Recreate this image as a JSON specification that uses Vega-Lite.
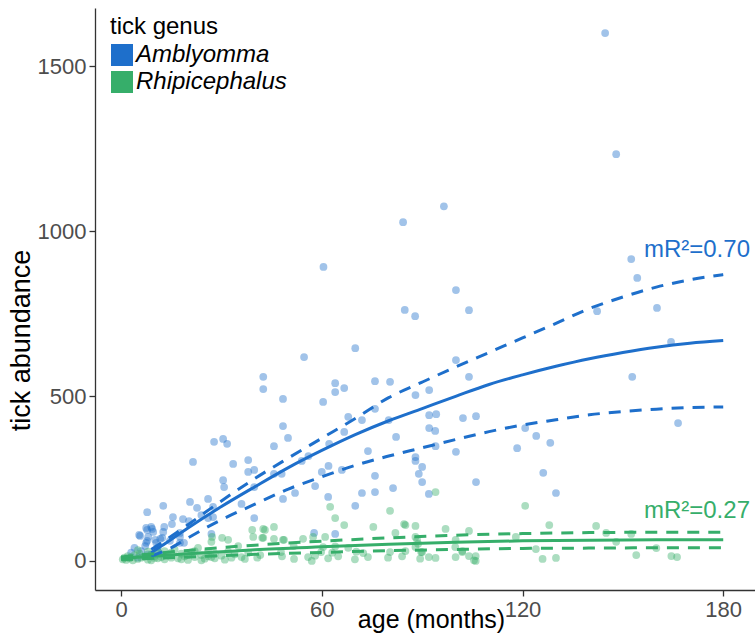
{
  "$schema": "https://vega.github.io/schema/vega-lite/v6.json",
  "width": 660,
  "height": 582,
  "autosize": {"type": "none"},
  "padding": {"left": 95, "top": 8, "right": 0, "bottom": 45},
  "background": "white",
  "config": {
    "view": {"stroke": null},
    "font": "Liberation Sans",
    "axis": {"grid": false, "domainColor": "#333333", "domainWidth": 1.3, "tickColor": "#333333", "tickSize": 6, "tickWidth": 1.3, "labelColor": "#4D4D4D", "labelFontSize": 22, "titleFont": "Liberation Sans", "titleFontSize": 27, "titleFontWeight": "normal", "titleColor": "#000000", "labelPadding": 3, "labelFont": "Liberation Sans"},
    "legend": {"titleFontSize": 24, "titleFontWeight": "normal", "titleColor": "#000000", "labelFontSize": 24, "labelFontStyle": "italic", "labelColor": "#000000", "symbolType": "square", "symbolSize": 484, "symbolOpacity": 1, "symbolStrokeWidth": 0, "rowPadding": 3, "titlePadding": 4, "labelOffset": 2}
  },
  "datasets": {
    "pts": [
      {"genus":"Amblyomma","age":144.7,"ticks":1600},{"genus":"Amblyomma","age":148,"ticks":1233},{"genus":"Amblyomma","age":96.5,"ticks":1075},{"genus":"Amblyomma","age":84.3,"ticks":1027},{"genus":"Amblyomma","age":60.5,"ticks":891},{"genus":"Amblyomma","age":100.1,"ticks":821},{"genus":"Amblyomma","age":104,"ticks":760},{"genus":"Amblyomma","age":84.8,"ticks":761},{"genus":"Amblyomma","age":152.5,"ticks":915},{"genus":"Amblyomma","age":154.3,"ticks":858},{"genus":"Amblyomma","age":160.2,"ticks":767},{"genus":"Amblyomma","age":164.4,"ticks":664},{"genus":"Amblyomma","age":152.8,"ticks":558},{"genus":"Amblyomma","age":166.5,"ticks":418},{"genus":"Amblyomma","age":142.3,"ticks":757},{"genus":"Amblyomma","age":87.9,"ticks":742},{"genus":"Amblyomma","age":100.1,"ticks":609},{"genus":"Amblyomma","age":104,"ticks":558},{"genus":"Amblyomma","age":92.1,"ticks":518},{"genus":"Amblyomma","age":92.1,"ticks":442},{"genus":"Amblyomma","age":94.2,"ticks":445},{"genus":"Amblyomma","age":102.2,"ticks":433},{"genus":"Amblyomma","age":106.1,"ticks":439},{"genus":"Amblyomma","age":92.1,"ticks":403},{"genus":"Amblyomma","age":93.9,"ticks":394},{"genus":"Amblyomma","age":120.8,"ticks":403},{"genus":"Amblyomma","age":124.1,"ticks":379},{"genus":"Amblyomma","age":128.3,"ticks":358},{"genus":"Amblyomma","age":118.4,"ticks":342},{"genus":"Amblyomma","age":88,"ticks":503},{"genus":"Amblyomma","age":94,"ticks":348},{"genus":"Amblyomma","age":100.1,"ticks":331},{"genus":"Amblyomma","age":88,"ticks":315},{"genus":"Amblyomma","age":88,"ticks":303},{"genus":"Amblyomma","age":90,"ticks":285},{"genus":"Amblyomma","age":89,"ticks":264},{"genus":"Amblyomma","age":90,"ticks":239},{"genus":"Amblyomma","age":92,"ticks":203},{"genus":"Amblyomma","age":106.1,"ticks":239},{"genus":"Amblyomma","age":126.2,"ticks":267},{"genus":"Amblyomma","age":130,"ticks":206},{"genus":"Amblyomma","age":70,"ticks":645},{"genus":"Amblyomma","age":54.7,"ticks":618},{"genus":"Amblyomma","age":42.5,"ticks":558},{"genus":"Amblyomma","age":42.5,"ticks":521},{"genus":"Amblyomma","age":48.4,"ticks":491},{"genus":"Amblyomma","age":60.4,"ticks":482},{"genus":"Amblyomma","age":64,"ticks":539},{"genus":"Amblyomma","age":64,"ticks":512},{"genus":"Amblyomma","age":66.7,"ticks":524},{"genus":"Amblyomma","age":75.9,"ticks":545},{"genus":"Amblyomma","age":80.4,"ticks":543},{"genus":"Amblyomma","age":67.9,"ticks":437},{"genus":"Amblyomma","age":72,"ticks":427},{"genus":"Amblyomma","age":75.9,"ticks":461},{"genus":"Amblyomma","age":80,"ticks":427},{"genus":"Amblyomma","age":48.4,"ticks":409},{"genus":"Amblyomma","age":49.9,"ticks":373},{"genus":"Amblyomma","age":45.7,"ticks":348},{"genus":"Amblyomma","age":66.7,"ticks":391},{"genus":"Amblyomma","age":62.2,"ticks":355},{"genus":"Amblyomma","age":73.8,"ticks":333},{"genus":"Amblyomma","age":75.9,"ticks":258},{"genus":"Amblyomma","age":30.5,"ticks":370},{"genus":"Amblyomma","age":27.8,"ticks":361},{"genus":"Amblyomma","age":31.7,"ticks":355},{"genus":"Amblyomma","age":21.5,"ticks":300},{"genus":"Amblyomma","age":33.5,"ticks":294},{"genus":"Amblyomma","age":38,"ticks":306},{"genus":"Amblyomma","age":38,"ticks":270},{"genus":"Amblyomma","age":39.8,"ticks":276},{"genus":"Amblyomma","age":45.7,"ticks":264},{"genus":"Amblyomma","age":48,"ticks":264},{"genus":"Amblyomma","age":54,"ticks":303},{"genus":"Amblyomma","age":56,"ticks":318},{"genus":"Amblyomma","age":60,"ticks":270},{"genus":"Amblyomma","age":62,"ticks":288},{"genus":"Amblyomma","age":58,"ticks":227},{"genus":"Amblyomma","age":48.4,"ticks":188},{"genus":"Amblyomma","age":52,"ticks":206},{"genus":"Amblyomma","age":39.8,"ticks":224},{"genus":"Amblyomma","age":36,"ticks":173},{"genus":"Amblyomma","age":39.8,"ticks":130},{"genus":"Amblyomma","age":30.5,"ticks":245},{"genus":"Amblyomma","age":30.8,"ticks":224},{"genus":"Amblyomma","age":26,"ticks":188},{"genus":"Amblyomma","age":22.7,"ticks":161},{"genus":"Amblyomma","age":20.6,"ticks":179},{"genus":"Amblyomma","age":24,"ticks":139},{"genus":"Amblyomma","age":18.5,"ticks":127},{"genus":"Amblyomma","age":27,"ticks":82},{"genus":"Amblyomma","age":27.5,"ticks":133},{"genus":"Amblyomma","age":12.6,"ticks":167},{"genus":"Amblyomma","age":15.5,"ticks":133},{"genus":"Amblyomma","age":15.2,"ticks":112},{"genus":"Amblyomma","age":7.8,"ticks":148},{"genus":"Amblyomma","age":9,"ticks":103},{"genus":"Amblyomma","age":7.5,"ticks":100},{"genus":"Amblyomma","age":5.7,"ticks":76},{"genus":"Amblyomma","age":9.6,"ticks":88},{"genus":"Amblyomma","age":11.7,"ticks":67},{"genus":"Amblyomma","age":12.6,"ticks":88},{"genus":"Amblyomma","age":7.8,"ticks":61},{"genus":"Amblyomma","age":10.5,"ticks":55},{"genus":"Amblyomma","age":7.5,"ticks":55},{"genus":"Amblyomma","age":14.6,"ticks":61},{"genus":"Amblyomma","age":17.6,"ticks":55},{"genus":"Amblyomma","age":10.8,"ticks":33},{"genus":"Amblyomma","age":17.6,"ticks":85},{"genus":"Amblyomma","age":57.7,"ticks":85},{"genus":"Amblyomma","age":64,"ticks":82},{"genus":"Amblyomma","age":61.9,"ticks":194},{"genus":"Amblyomma","age":72,"ticks":206},{"genus":"Amblyomma","age":75.9,"ticks":209},{"genus":"Amblyomma","age":70,"ticks":167},{"genus":"Amblyomma","age":81.3,"ticks":221},{"genus":"Amblyomma","age":27.5,"ticks":164},{"genus":"Amblyomma","age":82.2,"ticks":376},{"genus":"Amblyomma","age":66,"ticks":276},{"genus":"Amblyomma","age":12.9,"ticks":103},{"genus":"Amblyomma","age":20.3,"ticks":121},{"genus":"Amblyomma","age":7.8,"ticks":94},{"genus":"Amblyomma","age":9.3,"ticks":97},{"genus":"Amblyomma","age":5.4,"ticks":79},{"genus":"Amblyomma","age":8.1,"ticks":73},{"genus":"Amblyomma","age":10.2,"ticks":64},{"genus":"Amblyomma","age":12.3,"ticks":70},{"genus":"Amblyomma","age":7.2,"ticks":45},{"genus":"Amblyomma","age":11,"ticks":42},{"genus":"Amblyomma","age":17.6,"ticks":73},{"genus":"Amblyomma","age":18.8,"ticks":55},{"genus":"Amblyomma","age":26,"ticks":130},{"genus":"Amblyomma","age":3,"ticks":25},{"genus":"Amblyomma","age":4,"ticks":40},{"genus":"Amblyomma","age":6,"ticks":30},{"genus":"Amblyomma","age":8,"ticks":20},{"genus":"Amblyomma","age":5,"ticks":10},
      {"genus":"Rhipicephalus","age":94,"ticks":209},{"genus":"Rhipicephalus","age":120.8,"ticks":167},{"genus":"Rhipicephalus","age":85,"ticks":109},{"genus":"Rhipicephalus","age":88,"ticks":106},{"genus":"Rhipicephalus","age":97,"ticks":97},{"genus":"Rhipicephalus","age":104,"ticks":91},{"genus":"Rhipicephalus","age":128,"ticks":109},{"genus":"Rhipicephalus","age":142,"ticks":106},{"genus":"Rhipicephalus","age":118,"ticks":73},{"genus":"Rhipicephalus","age":145,"ticks":85},{"genus":"Rhipicephalus","age":152.5,"ticks":82},{"genus":"Rhipicephalus","age":148,"ticks":58},{"genus":"Rhipicephalus","age":160,"ticks":39},{"genus":"Rhipicephalus","age":154,"ticks":18},{"genus":"Rhipicephalus","age":164.5,"ticks":15},{"genus":"Rhipicephalus","age":166.2,"ticks":12},{"genus":"Rhipicephalus","age":124,"ticks":36},{"genus":"Rhipicephalus","age":126,"ticks":6},{"genus":"Rhipicephalus","age":130,"ticks":9},{"genus":"Rhipicephalus","age":100,"ticks":12},{"genus":"Rhipicephalus","age":104,"ticks":15},{"genus":"Rhipicephalus","age":106,"ticks":0},{"genus":"Rhipicephalus","age":102,"ticks":30},{"genus":"Rhipicephalus","age":92,"ticks":12},{"genus":"Rhipicephalus","age":94,"ticks":9},{"genus":"Rhipicephalus","age":85,"ticks":30},{"genus":"Rhipicephalus","age":90,"ticks":27},{"genus":"Rhipicephalus","age":88,"ticks":73},{"genus":"Rhipicephalus","age":100,"ticks":64},{"genus":"Rhipicephalus","age":62.5,"ticks":164},{"genus":"Rhipicephalus","age":64,"ticks":130},{"genus":"Rhipicephalus","age":66.7,"ticks":109},{"genus":"Rhipicephalus","age":80.4,"ticks":152},{"genus":"Rhipicephalus","age":43,"ticks":94},{"genus":"Rhipicephalus","age":45.7,"ticks":103},{"genus":"Rhipicephalus","age":42.5,"ticks":70},{"genus":"Rhipicephalus","age":45.7,"ticks":67},{"genus":"Rhipicephalus","age":48.4,"ticks":64},{"genus":"Rhipicephalus","age":54.4,"ticks":67},{"genus":"Rhipicephalus","age":51.6,"ticks":45},{"genus":"Rhipicephalus","age":40.7,"ticks":10},{"genus":"Rhipicephalus","age":48.1,"ticks":14},{"genus":"Rhipicephalus","age":51.7,"ticks":6},{"genus":"Rhipicephalus","age":55.9,"ticks":12},{"genus":"Rhipicephalus","age":58,"ticks":16},{"genus":"Rhipicephalus","age":61.9,"ticks":8},{"genus":"Rhipicephalus","age":64.9,"ticks":14},{"genus":"Rhipicephalus","age":69.9,"ticks":5},{"genus":"Rhipicephalus","age":73.8,"ticks":12},{"genus":"Rhipicephalus","age":79.8,"ticks":10},{"genus":"Rhipicephalus","age":84,"ticks":14},{"genus":"Rhipicephalus","age":89.4,"ticks":7},{"genus":"Rhipicephalus","age":47.8,"ticks":27},{"genus":"Rhipicephalus","age":59.8,"ticks":27},{"genus":"Rhipicephalus","age":63.1,"ticks":25},{"genus":"Rhipicephalus","age":70.3,"ticks":28},{"genus":"Rhipicephalus","age":72.4,"ticks":24},{"genus":"Rhipicephalus","age":80.4,"ticks":27},{"genus":"Rhipicephalus","age":60.4,"ticks":42},{"genus":"Rhipicephalus","age":64,"ticks":44},{"genus":"Rhipicephalus","age":67.9,"ticks":40},{"genus":"Rhipicephalus","age":75.4,"ticks":103},{"genus":"Rhipicephalus","age":82,"ticks":85},{"genus":"Rhipicephalus","age":84.6,"ticks":112},{"genus":"Rhipicephalus","age":88.8,"ticks":52},{"genus":"Rhipicephalus","age":88.5,"ticks":64},{"genus":"Rhipicephalus","age":88,"ticks":42},{"genus":"Rhipicephalus","age":89.7,"ticks":27},{"genus":"Rhipicephalus","age":99.9,"ticks":42},{"genus":"Rhipicephalus","age":102,"ticks":27},{"genus":"Rhipicephalus","age":106,"ticks":15},{"genus":"Rhipicephalus","age":57,"ticks":0},{"genus":"Rhipicephalus","age":105.5,"ticks":2},{"genus":"Rhipicephalus","age":61,"ticks":73},{"genus":"Rhipicephalus","age":57.4,"ticks":73},{"genus":"Rhipicephalus","age":39.5,"ticks":73},{"genus":"Rhipicephalus","age":42.5,"ticks":97},{"genus":"Rhipicephalus","age":48.7,"ticks":64},{"genus":"Rhipicephalus","age":27.2,"ticks":73},{"genus":"Rhipicephalus","age":30.2,"ticks":70},{"genus":"Rhipicephalus","age":32,"ticks":64},{"genus":"Rhipicephalus","age":39.2,"ticks":94},{"genus":"Rhipicephalus","age":42.2,"ticks":70},{"genus":"Rhipicephalus","age":41.6,"ticks":18},{"genus":"Rhipicephalus","age":5,"ticks":33},{"genus":"Rhipicephalus","age":27,"ticks":58},
      {"genus":"Rhipicephalus","age":0.5,"ticks":5},{"genus":"Rhipicephalus","age":1,"ticks":10},{"genus":"Rhipicephalus","age":1.5,"ticks":3},{"genus":"Rhipicephalus","age":2,"ticks":15},{"genus":"Rhipicephalus","age":2.5,"ticks":8},{"genus":"Rhipicephalus","age":3,"ticks":12},{"genus":"Rhipicephalus","age":3.5,"ticks":2},{"genus":"Rhipicephalus","age":4,"ticks":18},{"genus":"Rhipicephalus","age":5,"ticks":6},{"genus":"Rhipicephalus","age":5.5,"ticks":22},{"genus":"Rhipicephalus","age":6,"ticks":10},{"genus":"Rhipicephalus","age":7,"ticks":14},{"genus":"Rhipicephalus","age":8,"ticks":4},{"genus":"Rhipicephalus","age":9,"ticks":20},{"genus":"Rhipicephalus","age":10,"ticks":9},{"genus":"Rhipicephalus","age":11,"ticks":28},{"genus":"Rhipicephalus","age":12,"ticks":12},{"genus":"Rhipicephalus","age":13,"ticks":5},{"genus":"Rhipicephalus","age":14,"ticks":18},{"genus":"Rhipicephalus","age":15,"ticks":10},{"genus":"Rhipicephalus","age":16,"ticks":35},{"genus":"Rhipicephalus","age":17,"ticks":8},{"genus":"Rhipicephalus","age":18,"ticks":22},{"genus":"Rhipicephalus","age":19,"ticks":14},{"genus":"Rhipicephalus","age":20,"ticks":3},{"genus":"Rhipicephalus","age":21,"ticks":26},{"genus":"Rhipicephalus","age":22,"ticks":12},{"genus":"Rhipicephalus","age":23,"ticks":40},{"genus":"Rhipicephalus","age":24,"ticks":18},{"genus":"Rhipicephalus","age":25,"ticks":7},{"genus":"Rhipicephalus","age":26,"ticks":30},{"genus":"Rhipicephalus","age":27,"ticks":12},{"genus":"Rhipicephalus","age":28,"ticks":22},{"genus":"Rhipicephalus","age":30,"ticks":16},{"genus":"Rhipicephalus","age":31,"ticks":4},{"genus":"Rhipicephalus","age":32,"ticks":28},{"genus":"Rhipicephalus","age":33,"ticks":10},{"genus":"Rhipicephalus","age":34,"ticks":20},{"genus":"Rhipicephalus","age":35,"ticks":45},{"genus":"Rhipicephalus","age":36,"ticks":12},{"genus":"Rhipicephalus","age":37,"ticks":6},{"genus":"Rhipicephalus","age":38,"ticks":25},{"genus":"Rhipicephalus","age":8,"ticks":28},{"genus":"Rhipicephalus","age":10,"ticks":15},{"genus":"Rhipicephalus","age":12,"ticks":20},{"genus":"Rhipicephalus","age":9,"ticks":2},{"genus":"Rhipicephalus","age":11,"ticks":8},{"genus":"Rhipicephalus","age":13,"ticks":30},{"genus":"Rhipicephalus","age":15,"ticks":25},{"genus":"Rhipicephalus","age":18,"ticks":5},{"genus":"Rhipicephalus","age":20,"ticks":18},{"genus":"Rhipicephalus","age":22,"ticks":30},{"genus":"Rhipicephalus","age":24,"ticks":2},{"genus":"Rhipicephalus","age":26,"ticks":14},{"genus":"Rhipicephalus","age":28,"ticks":8}
    ],
    "fits": [
      {"genus":"Amblyomma","kind":"fit","age":9,"ticks":25},{"genus":"Amblyomma","kind":"fit","age":12,"ticks":45},{"genus":"Amblyomma","kind":"fit","age":20,"ticks":100},{"genus":"Amblyomma","kind":"fit","age":30,"ticks":165},{"genus":"Amblyomma","kind":"fit","age":40,"ticks":225},{"genus":"Amblyomma","kind":"fit","age":50,"ticks":283},{"genus":"Amblyomma","kind":"fit","age":60,"ticks":335},{"genus":"Amblyomma","kind":"fit","age":70,"ticks":383},{"genus":"Amblyomma","kind":"fit","age":80,"ticks":425},{"genus":"Amblyomma","kind":"fit","age":90,"ticks":462},{"genus":"Amblyomma","kind":"fit","age":100,"ticks":499},{"genus":"Amblyomma","kind":"fit","age":110,"ticks":535},{"genus":"Amblyomma","kind":"fit","age":120,"ticks":564},{"genus":"Amblyomma","kind":"fit","age":130,"ticks":590},{"genus":"Amblyomma","kind":"fit","age":140,"ticks":613},{"genus":"Amblyomma","kind":"fit","age":150,"ticks":632},{"genus":"Amblyomma","kind":"fit","age":160,"ticks":648},{"genus":"Amblyomma","kind":"fit","age":170,"ticks":660},{"genus":"Amblyomma","kind":"fit","age":180,"ticks":668},
      {"genus":"Amblyomma","kind":"upper","age":9,"ticks":35},{"genus":"Amblyomma","kind":"upper","age":15,"ticks":75},{"genus":"Amblyomma","kind":"upper","age":20,"ticks":110},{"genus":"Amblyomma","kind":"upper","age":30,"ticks":182},{"genus":"Amblyomma","kind":"upper","age":40,"ticks":250},{"genus":"Amblyomma","kind":"upper","age":50,"ticks":312},{"genus":"Amblyomma","kind":"upper","age":60,"ticks":372},{"genus":"Amblyomma","kind":"upper","age":70,"ticks":432},{"genus":"Amblyomma","kind":"upper","age":80,"ticks":495},{"genus":"Amblyomma","kind":"upper","age":90,"ticks":542},{"genus":"Amblyomma","kind":"upper","age":100,"ticks":588},{"genus":"Amblyomma","kind":"upper","age":110,"ticks":632},{"genus":"Amblyomma","kind":"upper","age":120,"ticks":676},{"genus":"Amblyomma","kind":"upper","age":130,"ticks":720},{"genus":"Amblyomma","kind":"upper","age":140,"ticks":765},{"genus":"Amblyomma","kind":"upper","age":150,"ticks":800},{"genus":"Amblyomma","kind":"upper","age":160,"ticks":830},{"genus":"Amblyomma","kind":"upper","age":170,"ticks":852},{"genus":"Amblyomma","kind":"upper","age":180,"ticks":868},
      {"genus":"Amblyomma","kind":"lower","age":9,"ticks":15},{"genus":"Amblyomma","kind":"lower","age":15,"ticks":40},{"genus":"Amblyomma","kind":"lower","age":20,"ticks":70},{"genus":"Amblyomma","kind":"lower","age":30,"ticks":125},{"genus":"Amblyomma","kind":"lower","age":40,"ticks":172},{"genus":"Amblyomma","kind":"lower","age":50,"ticks":218},{"genus":"Amblyomma","kind":"lower","age":60,"ticks":255},{"genus":"Amblyomma","kind":"lower","age":70,"ticks":290},{"genus":"Amblyomma","kind":"lower","age":80,"ticks":318},{"genus":"Amblyomma","kind":"lower","age":90,"ticks":343},{"genus":"Amblyomma","kind":"lower","age":100,"ticks":368},{"genus":"Amblyomma","kind":"lower","age":110,"ticks":392},{"genus":"Amblyomma","kind":"lower","age":120,"ticks":412},{"genus":"Amblyomma","kind":"lower","age":130,"ticks":428},{"genus":"Amblyomma","kind":"lower","age":140,"ticks":443},{"genus":"Amblyomma","kind":"lower","age":150,"ticks":453},{"genus":"Amblyomma","kind":"lower","age":160,"ticks":460},{"genus":"Amblyomma","kind":"lower","age":170,"ticks":465},{"genus":"Amblyomma","kind":"lower","age":180,"ticks":467},
      {"genus":"Rhipicephalus","kind":"fit","age":0,"ticks":8},{"genus":"Rhipicephalus","kind":"fit","age":10,"ticks":15},{"genus":"Rhipicephalus","kind":"fit","age":20,"ticks":22},{"genus":"Rhipicephalus","kind":"fit","age":30,"ticks":28},{"genus":"Rhipicephalus","kind":"fit","age":40,"ticks":34},{"genus":"Rhipicephalus","kind":"fit","age":60,"ticks":43},{"genus":"Rhipicephalus","kind":"fit","age":80,"ticks":51},{"genus":"Rhipicephalus","kind":"fit","age":100,"ticks":57},{"genus":"Rhipicephalus","kind":"fit","age":120,"ticks":61},{"genus":"Rhipicephalus","kind":"fit","age":140,"ticks":63},{"genus":"Rhipicephalus","kind":"fit","age":160,"ticks":64},{"genus":"Rhipicephalus","kind":"fit","age":180,"ticks":64},
      {"genus":"Rhipicephalus","kind":"upper","age":0,"ticks":12},{"genus":"Rhipicephalus","kind":"upper","age":20,"ticks":32},{"genus":"Rhipicephalus","kind":"upper","age":40,"ticks":48},{"genus":"Rhipicephalus","kind":"upper","age":60,"ticks":60},{"genus":"Rhipicephalus","kind":"upper","age":80,"ticks":70},{"genus":"Rhipicephalus","kind":"upper","age":100,"ticks":78},{"genus":"Rhipicephalus","kind":"upper","age":120,"ticks":83},{"genus":"Rhipicephalus","kind":"upper","age":140,"ticks":86},{"genus":"Rhipicephalus","kind":"upper","age":160,"ticks":87},{"genus":"Rhipicephalus","kind":"upper","age":180,"ticks":87},
      {"genus":"Rhipicephalus","kind":"lower","age":0,"ticks":4},{"genus":"Rhipicephalus","kind":"lower","age":20,"ticks":12},{"genus":"Rhipicephalus","kind":"lower","age":40,"ticks":20},{"genus":"Rhipicephalus","kind":"lower","age":60,"ticks":26},{"genus":"Rhipicephalus","kind":"lower","age":80,"ticks":31},{"genus":"Rhipicephalus","kind":"lower","age":100,"ticks":35},{"genus":"Rhipicephalus","kind":"lower","age":120,"ticks":38},{"genus":"Rhipicephalus","kind":"lower","age":140,"ticks":39},{"genus":"Rhipicephalus","kind":"lower","age":160,"ticks":40},{"genus":"Rhipicephalus","kind":"lower","age":180,"ticks":40}
    ],
    "labels": [
      {"genus":"Amblyomma","label":"mR²=0.70","age":188,"ticks":942},
      {"genus":"Rhipicephalus","label":"mR²=0.27","age":188,"ticks":150}
    ]
  },
  "resolve": {"legend": {"color": "independent"}},
  "layer": [
    {
      "data": {"name": "pts"},
      "mark": {"type": "point", "filled": true, "size": 60, "opacity": 0.42},
      "encoding": {
        "x": {"field": "age", "type": "quantitative", "scale": {"domain": [-7.8, 189.5], "nice": false, "zero": false}, "axis": {"values": [0, 60, 120, 180], "title": "age (months)", "titleFontSize": 25, "titleX": 336, "titleY": 37, "titleBaseline": "alphabetic", "titleAlign": "center", "titleAnchor": null}},
        "y": {"field": "ticks", "type": "quantitative", "scale": {"domain": [-88, 1676], "nice": false, "zero": false}, "axis": {"values": [0, 500, 1000, 1500], "format": "d", "title": "tick abundance", "titleAngle": 270, "titleX": -74, "titleY": 332, "titleBaseline": "middle", "titleAlign": "center", "titleAnchor": null}},
        "color": {"field": "genus", "type": "nominal", "scale": {"domain": ["Amblyomma", "Rhipicephalus"], "range": ["#1E6FCB", "#36AE6A"]}, "legend": {"title": "tick genus", "orient": "none", "legendX": 15, "legendY": 7}}
      }
    },
    {
      "data": {"name": "fits"},
      "transform": [{"filter": "datum.kind == 'fit'"}],
      "mark": {"type": "line", "strokeWidth": 3, "interpolate": "monotone"},
      "encoding": {
        "x": {"field": "age", "type": "quantitative"},
        "y": {"field": "ticks", "type": "quantitative"},
        "color": {"field": "genus", "type": "nominal", "legend": null},
        "detail": {"field": "kind"}
      }
    },
    {
      "data": {"name": "fits"},
      "transform": [{"filter": "datum.kind != 'fit'"}],
      "mark": {"type": "line", "strokeWidth": 3, "strokeDash": [12, 9], "interpolate": "monotone"},
      "encoding": {
        "x": {"field": "age", "type": "quantitative"},
        "y": {"field": "ticks", "type": "quantitative"},
        "color": {"field": "genus", "type": "nominal", "legend": null},
        "detail": {"field": "kind"}
      }
    },
    {
      "data": {"name": "labels"},
      "mark": {"type": "text", "align": "right", "baseline": "middle", "fontSize": 24},
      "encoding": {
        "x": {"field": "age", "type": "quantitative"},
        "y": {"field": "ticks", "type": "quantitative"},
        "text": {"field": "label"},
        "color": {"field": "genus", "type": "nominal", "legend": null}
      }
    }
  ]
}
